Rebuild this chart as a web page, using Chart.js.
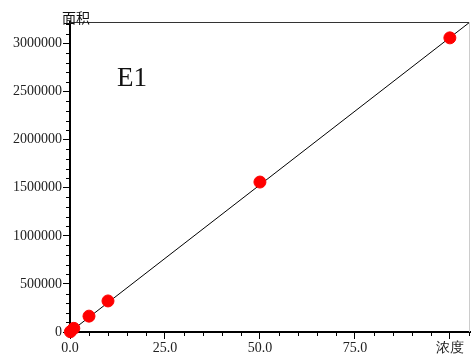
<!DOCTYPE html>
<html>
<head>
<meta charset="utf-8">
<script src="https://cdn.jsdelivr.net/npm/chart.js@4.4.0/dist/chart.umd.min.js"></script>
<style>
  html, body { margin: 0; padding: 0; background: #fff; }
  #wrap { width: 472px; height: 357px; }
</style>
</head>
<body>
<div id="wrap"><canvas id="chart" width="472" height="357"></canvas></div>
<script>
// Datos
const concentraciones = [0.1, 1, 5, 10, 50, 100];
const areas = [3000, 38000, 165000, 323000, 1560000, 3060000];
const rectaX = [0, 105.3];
const rectaY = [0, 3225000];
const xMayores = [0, 25, 50, 75, 100];
const yMayores = [0, 500000, 1000000, 1500000, 2000000, 2500000, 3000000];
const xMenor = 5;
const yMenor = 100000;

const fuente = { family: 'Liberation Serif', size: 14 };

// Marco, ticks menores y textos
const extras = {
    id: 'extras',
    afterDraw(chart) {
        const { ctx, chartArea: a, scales: { x, y } } = chart;
        ctx.save();
        ctx.strokeStyle = '#000';
        ctx.lineWidth = 1;
        ctx.beginPath();
        for (let v = 0; v <= x.max; v += xMenor) {
            if (v % 25 === 0) continue;
            const px = Math.round(x.getPixelForValue(v)) + 0.5;
            ctx.moveTo(px, a.bottom);
            ctx.lineTo(px, a.bottom + 4);
        }
        for (let v = 0; v <= y.max; v += yMenor) {
            if (v % 500000 === 0) continue;
            const py = Math.round(y.getPixelForValue(v)) + 0.5;
            ctx.moveTo(a.left, py);
            ctx.lineTo(a.left - 4, py);
        }
        ctx.stroke();

        ctx.strokeStyle = '#333';
        ctx.beginPath();
        ctx.moveTo(a.left, a.top + 0.5);
        ctx.lineTo(a.right, a.top + 0.5);
        ctx.stroke();
        ctx.strokeStyle = '#ccc';
        ctx.beginPath();
        ctx.moveTo(a.right - 0.5, a.top);
        ctx.lineTo(a.right - 0.5, a.bottom);
        ctx.stroke();

        ctx.fillStyle = '#111';
        ctx.font = '14px "Noto Sans CJK SC"';
        ctx.textAlign = 'center';
        ctx.textBaseline = 'bottom';
        ctx.fillText('面积', a.left + 6, a.top + 3);
        ctx.font = '27px "Liberation Serif"';
        ctx.textAlign = 'left';
        ctx.textBaseline = 'alphabetic';
        ctx.fillText('E1', 117, 86);
        ctx.restore();
    }
};

new Chart(document.getElementById('chart'), {
    type: 'scatter',
    data: {
        datasets: [
            {
                label: 'E1',
                data: concentraciones.map((c, i) => ({ x: c, y: areas[i] })),
                backgroundColor: '#ff0000',
                borderColor: '#ff0000',
                pointRadius: 6,
                pointHoverRadius: 6,
                clip: false,
                order: 1
            },
            {
                label: 'recta',
                type: 'line',
                data: rectaX.map((c, i) => ({ x: c, y: rectaY[i] })),
                borderColor: '#000',
                borderWidth: 1,
                pointRadius: 0,
                fill: false,
                order: 2
            }
        ]
    },
    options: {
        responsive: false,
        animation: false,
        layout: { autoPadding: false, padding: { top: 22, right: 2, left: 0, bottom: 0 } },
        plugins: { legend: { display: false }, tooltip: { enabled: false } },
        scales: {
            x: {
                type: 'linear',
                min: 0,
                max: 105.3,
                afterBuildTicks: (s) => { s.ticks = xMayores.map(v => ({ value: v })); },
                afterFit: (s) => { s.height = 25; s.paddingLeft = 0; s.paddingRight = 0; },
                ticks: {
                    font: fuente,
                    color: '#222',
                    padding: 1,
                    maxRotation: 0,
                    callback: (v) => v === 100 ? '浓度' : v.toFixed(1)
                },
                grid: { drawOnChartArea: false, drawTicks: true, tickLength: 7, color: '#000', tickWidth: 1 },
                border: { display: true, color: '#000', width: 2 }
            },
            y: {
                type: 'linear',
                min: 0,
                max: 3225000,
                afterBuildTicks: (s) => { s.ticks = yMayores.map(v => ({ value: v })); },
                afterFit: (s) => { s.width = 70; s.paddingTop = 0; s.paddingBottom = 0; },
                ticks: {
                    font: fuente,
                    color: '#222',
                    padding: 1,
                    callback: (v) => String(v)
                },
                grid: { drawOnChartArea: false, drawTicks: true, tickLength: 7, color: '#000', tickWidth: 1 },
                border: { display: true, color: '#000', width: 2 }
            }
        }
    },
    plugins: [extras]
});
</script>
</body>
</html>
